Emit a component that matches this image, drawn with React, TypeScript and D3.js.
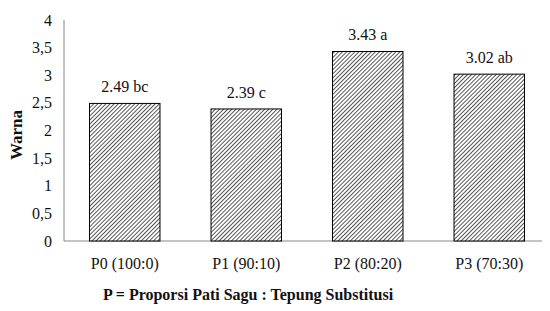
import React from 'react';
import * as d3 from 'd3';

const categories = ['P0 (100:0)', 'P1 (90:10)', 'P2 (80:20)', 'P3 (70:30)'];
const values = [2.49, 2.39, 3.43, 3.02];
const notations = ['bc', 'c', 'a', 'ab'];
const yTicks = [0, 0.5, 1, 1.5, 2, 2.5, 3, 3.5, 4];

// page keeps its 8px body margin, so the svg is 542 wide and shifted back
const W = 542;
const H = 303;
const left = 64;
const right = 550;
const top = 20;
const bottom = 241;
const serif = 'Tinos';

export default function App() {
  const x = d3.scaleBand<string>().domain(categories).range([left, right]).paddingInner(0.42).paddingOuter(0.21);
  const y = d3.scaleLinear().domain([0, 4]).range([bottom, top]);
  const fmt = (v: number) => String(v).replace('.', ',');

  return (
    <svg width={W} height={H}>
      <defs>
        <pattern id="hatch" patternUnits="userSpaceOnUse" width={2.9} height={2.9} patternTransform="rotate(45)">
          <rect width={3} height={3} fill="#fff" />
          <line x1={0} y1={0} x2={0} y2={3} stroke="#111" strokeWidth={1.4} />
        </pattern>
      </defs>
      <g transform="translate(-8,-8)">
        {yTicks.map((t) => (
          <text key={t} x={52} y={y(t)} dy="0.35em" textAnchor="end" fontSize={16} fill="#111" fontFamily={serif}>
            {fmt(t)}
          </text>
        ))}
        <line x1={left} x2={left} y1={top} y2={bottom} stroke="#888" />
        <line x1={left} x2={right} y1={bottom} y2={bottom} stroke="#888" />
        {categories.map((c, i) => (
          <g key={c}>
            <rect
              x={x(c)}
              y={y(values[i])}
              width={x.bandwidth()}
              height={bottom - y(values[i])}
              fill="url(#hatch)"
              stroke="#000"
              strokeWidth={1}
            />
            <text x={x(c)! + x.bandwidth() / 2} y={y(values[i]) - 11} textAnchor="middle" fontSize={16} fill="#111" fontFamily={serif}>
              {values[i].toFixed(2)} {notations[i]}
            </text>
            <text x={x(c)! + x.bandwidth() / 2} y={269} textAnchor="middle" fontSize={16} fill="#111" fontFamily={serif}>
              {c}
            </text>
          </g>
        ))}
        <text x={248} y={300} textAnchor="middle" fontSize={16} fontWeight="bold" fill="#111" fontFamily={serif}>
          P = Proporsi Pati Sagu : Tepung Substitusi
        </text>
        <text transform="translate(22,135) rotate(-90)" textAnchor="middle" fontSize={17} fontWeight="bold" fill="#111" fontFamily={serif}>
          Warna
        </text>
      </g>
    </svg>
  );
}
